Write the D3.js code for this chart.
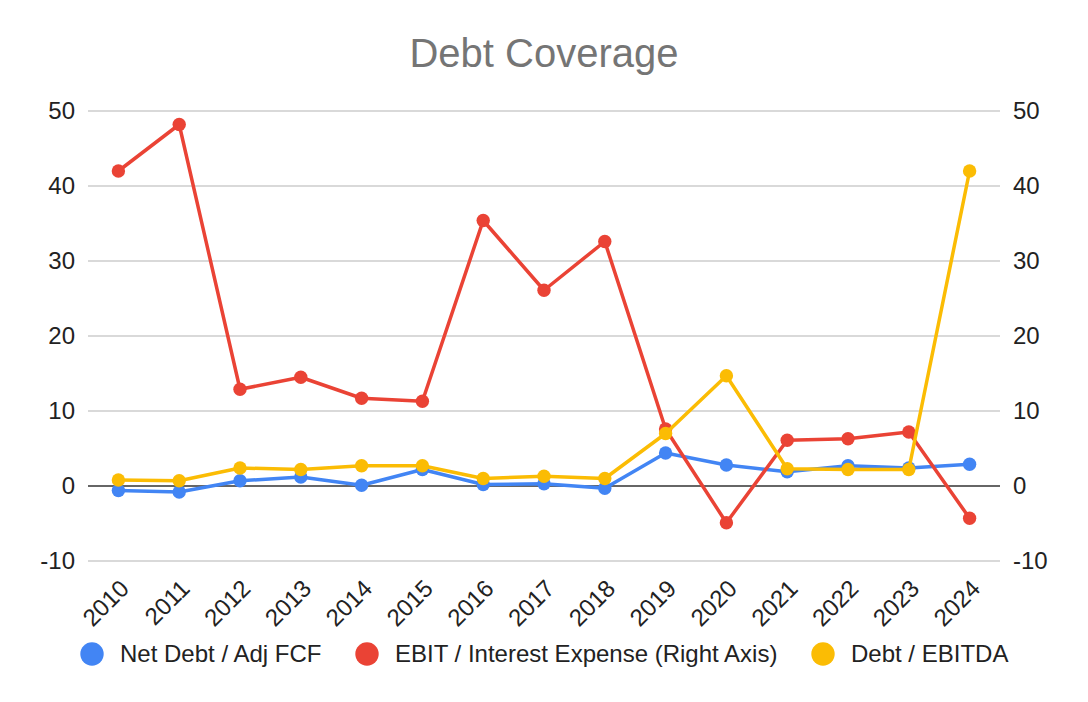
<!DOCTYPE html>
<html><head><meta charset="utf-8">
<script src="https://cdn.jsdelivr.net/npm/d3@7"></script>
<style>body{margin:0;background:#fff}svg{display:block;font-family:Arial,"Liberation Sans",sans-serif}</style>
</head><body>
<svg id="c" width="1088" height="702"></svg>
<script>
const years = ["2010","2011","2012","2013","2014","2015","2016","2017","2018","2019","2020","2021","2022","2023","2024"];
const netDebtAdjFCF = [-0.6,-0.8,0.7,1.2,0.1,2.2,0.2,0.3,-0.3,4.4,2.8,1.9,2.7,2.4,2.9];
const ebitInterest = [42.0,48.2,12.9,14.5,11.7,11.3,35.4,26.1,32.6,7.6,-4.9,6.1,6.3,7.2,-4.3];
const debtEBITDA = [0.8,0.7,2.4,2.2,2.7,2.7,1.0,1.3,1.0,7.0,14.7,2.3,2.2,2.2,42.0];
const yTicks = [-10,0,10,20,30,40,50];
const seriesNames = ["Net Debt / Adj FCF","EBIT / Interest Expense (Right Axis)","Debt / EBITDA"];
const colors = ["#4285f4","#ea4335","#fbbc04"];

const svg = d3.select("#c");
const L = 88, R = 1000, T = 111, B = 561;
const x = d3.scaleBand().domain(years).range([L, R]);
const yL = d3.scaleLinear().domain([-10, 50]).range([B, T]);
const yR = d3.scaleLinear().domain([-10, 50]).range([B, T]);
const FONT = "Arial, 'Liberation Sans', sans-serif";

svg.append("text").attr("x", 544).attr("y", 67).attr("text-anchor", "middle")
  .attr("font-size", 40).attr("fill", "#757575").text("Debt Coverage");

// grid
svg.append("g").selectAll("line").data(yTicks).join("line")
  .attr("x1", L).attr("x2", R).attr("y1", d => yL(d)).attr("y2", d => yL(d))
  .attr("stroke", d => d === 0 ? "#333" : "#ccc").attr("stroke-width", 1.5);

const fmt = d => String(d);
const axL = svg.append("g").attr("transform", `translate(${L},0)`)
  .call(d3.axisLeft(yL).tickValues(yTicks).tickFormat(fmt).tickSize(0).tickPadding(13));
const axR = svg.append("g").attr("transform", `translate(${R},0)`)
  .call(d3.axisRight(yR).tickValues(yTicks).tickFormat(fmt).tickSize(0).tickPadding(13));
[axL, axR].forEach(a => {
  a.select(".domain").remove();
  a.selectAll("text").attr("font-size", 24).attr("fill", "#222").attr("font-family", FONT);
});

const axB = svg.append("g").attr("transform", `translate(0,${B})`)
  .call(d3.axisBottom(x).tickSize(0).tickPadding(0));
axB.select(".domain").remove();
axB.selectAll("text").attr("font-size", 24).attr("fill", "#222")
  .attr("font-family", FONT)
  .attr("text-anchor", "end").attr("dy", 0)
  .attr("transform", "translate(12,29) rotate(-45)");

const cx = d => x(d) + x.bandwidth() / 2;
const data = [
  {vals: netDebtAdjFCF, y: yL, c: colors[0]},
  {vals: debtEBITDA, y: yL, c: colors[2]},
  {vals: ebitInterest, y: yR, c: colors[1]}
];
const order = [data[0], data[2], data[1]];
order.forEach(s => {
  const pts = years.map((yr, i) => [cx(yr), s.y(s.vals[i])]);
  svg.append("path").attr("d", d3.line()(pts)).attr("fill", "none")
    .attr("stroke", s.c).attr("stroke-width", 3.5).attr("stroke-linejoin", "round");
  svg.append("g").selectAll("circle").data(pts).join("circle")
    .attr("cx", d => d[0]).attr("cy", d => d[1]).attr("r", 6.7).attr("fill", s.c);
});

// legend
const legX = [92, 367, 823];
const lg = svg.append("g");
seriesNames.forEach((n, i) => {
  lg.append("circle").attr("cx", legX[i]).attr("cy", 654).attr("r", 11.7).attr("fill", colors[i]);
  lg.append("text").attr("x", legX[i] + 28).attr("y", 662).attr("font-size", 24).attr("fill", "#222").text(n);
});
</script>
</body></html>
